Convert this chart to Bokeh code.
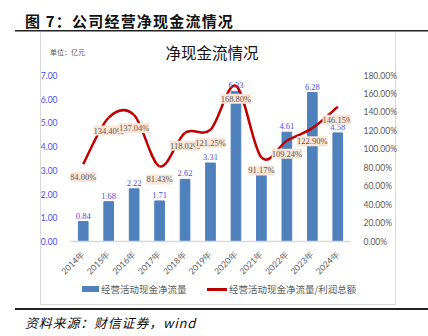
import math
from bokeh.plotting import figure
from bokeh.layouts import column
from bokeh.models import (Range1d, LinearAxis, FixedTicker, PrintfTickFormatter, ColumnDataSource,
                          LabelSet, FactorRange, Div)
from bokeh.embed import file_html
from bokeh.resources import INLINE

# ---------------- data ----------------
years = ["2014年", "2015年", "2016年", "2017年", "2018年", "2019年",
         "2020年", "2021年", "2022年", "2023年", "2024年"]
cash_flow = [0.84, 1.68, 2.22, 1.71, 2.62, 3.31, 6.33, 2.82, 4.61, 6.28, 4.58]   # 亿元
ratio = [84.00, 134.40, 137.04, 81.43, 118.02, 121.25, 168.80, 91.17, 109.24, 122.90, 146.15]  # %
left_ticks = [0, 1, 2, 3, 4, 5, 6, 7]
right_ticks = [0, 20, 40, 60, 80, 100, 120, 140, 160, 180]

series_bar = "经营活动现金净流量"
series_line = "经营活动现金净流量/利润总额"
heading = "图 7：公司经营净现金流情况"
chart_title = "净现金流情况"
unit_text = "单位：亿元"
source_text = "资料来源：财信证券，wind"

# ---------------- styles / layout ----------------
W, H = 428, 336
TOP_H = 58                  # heading strip height
FIG_H = 224                 # chart figure height (canvas y 58..282)
BOT_H = H - TOP_H - FIG_H   # legend / source strip
FL, FR = 70, 350            # frame left/right (px)
FT, FB = 75 - TOP_H, 244 - TOP_H   # frame top/bottom inside the figure

BAR_C = "#4F81BD"
LINE_C = "#C00000"
GRAY = "#595959"
BLUE_TXT = "#4B4BF0"
NUM_FONT = "Lato"
CJK = "Noto Sans CJK SC"

def hline(x, y, w, h, c):
    return f"linear-gradient({c},{c}) {x}px {y}px / {w}px {h}px no-repeat"

decor = ", ".join([
    hline(15, 30, W - 15, 1.5, "#222222"),
    hline(15, 307.5, W - 15, 2, "#222222"),
    hline(40, 31.5, 1, 272.5, "#D9D9D9"),
    hline(395, 31.5, 1, 272.5, "#D9D9D9"),
    hline(40, 304, 356, 1, "#D9D9D9"),
]) + ", white"

p = figure(width=W, height=FIG_H, x_range=FactorRange(*years),
           y_range=Range1d(left_ticks[0], left_ticks[-1]),
           output_backend="svg", toolbar_location=None,
           min_border_left=FL, min_border_right=W - FR, min_border_top=FT,
           min_border_bottom=FIG_H - FB,
           background_fill_color=None, border_fill_color=None)
p.outline_line_color = None
p.xgrid.visible = False
p.ygrid.visible = False
p.extra_y_ranges = {"pct": Range1d(right_ticks[0], right_ticks[-1])}

# left axis
ya = p.yaxis[0]
ya.ticker = FixedTicker(ticks=left_ticks)
ya.formatter = PrintfTickFormatter(format="%.2f")
ya.axis_line_color = None
ya.major_tick_line_color = None
ya.minor_tick_line_color = None
ya.major_label_standoff = 7
ya.major_label_text_font = NUM_FONT
ya.major_label_text_font_size = "8.5px"
ya.major_label_text_color = BLUE_TXT

# right axis
ra = LinearAxis(y_range_name="pct", ticker=FixedTicker(ticks=right_ticks),
                formatter=PrintfTickFormatter(format="%.2f%%"))
ra.axis_line_color = None
ra.major_tick_line_color = None
ra.minor_tick_line_color = None
ra.major_label_standoff = 7
ra.major_label_text_font = NUM_FONT
ra.major_label_text_font_size = "8.5px"
ra.major_label_text_color = GRAY
p.add_layout(ra, "right")

# bottom axis
xa = p.xaxis[0]
xa.axis_line_color = "#D9D9D9"
xa.axis_line_width = 1.5
xa.major_tick_line_color = None
xa.minor_tick_line_color = None
xa.major_label_orientation = math.pi / 4
xa.major_label_standoff = 5
xa.major_label_text_font = NUM_FONT
xa.major_label_text_font_size = "8.5px"
xa.major_label_text_color = GRAY

# bars
src = ColumnDataSource(dict(x=years, v=cash_flow, vt=[f"{v:.2f}" for v in cash_flow],
                            r=ratio, rt=[f"{v:.2f}%" for v in ratio]))
p.vbar(x="x", top="v", width=0.38, source=src, fill_color=BAR_C, line_color=BAR_C)

# smooth line (Catmull-Rom bezier through the data points)
n = len(ratio)
xc = [i + 0.5 for i in range(n)]
x0, y0, x1, y1, cx0, cy0, cx1, cy1 = [], [], [], [], [], [], [], []
for i in range(n - 1):
    pm = max(i - 1, 0)
    pp = min(i + 2, n - 1)
    x0.append(xc[i]); y0.append(ratio[i])
    x1.append(xc[i + 1]); y1.append(ratio[i + 1])
    cx0.append(xc[i] + (xc[i + 1] - xc[pm]) / 6); cy0.append(ratio[i] + (ratio[i + 1] - ratio[pm]) / 6)
    cx1.append(xc[i + 1] - (xc[pp] - xc[i]) / 6); cy1.append(ratio[i + 1] - (ratio[pp] - ratio[i]) / 6)
bsrc = ColumnDataSource(dict(x0=x0, y0=y0, x1=x1, y1=y1, cx0=cx0, cy0=cy0, cx1=cx1, cy1=cy1))
p.bezier(x0="x0", y0="y0", x1="x1", y1="y1", cx0="cx0", cy0="cy0", cx1="cx1", cy1="cy1",
         source=bsrc, y_range_name="pct", line_color=LINE_C, line_width=2.5)

# value labels
p.add_layout(LabelSet(x="x", y="v", text="vt", source=src, y_offset=3, text_align="center",
                      text_baseline="bottom", text_font=NUM_FONT, text_font_size="8.5px",
                      text_color=BLUE_TXT))
p.add_layout(LabelSet(x="x", y="r", text="rt", source=src, y_range_name="pct", y_offset=-13,
                      text_align="center", text_baseline="middle", text_font=NUM_FONT,
                      text_font_size="8.5px", text_color=GRAY, background_fill_color="#FBE5D6"))

abs_ = "position:absolute;white-space:nowrap;"

# heading strip: figure caption, chart title, unit
top_html = (
    f'<div style="position:relative;width:{W}px;height:{TOP_H}px;font-family:\'{CJK}\';">'
    f'<div style="{abs_}left:25px;top:11px;font-size:15px;line-height:20px;font-weight:bold;letter-spacing:1.2px;color:#111111;">{heading}</div>'
    f'<div style="{abs_}left:0px;top:42px;width:424px;text-align:center;font-size:15.5px;line-height:20px;color:#111111;">{chart_title}</div>'
    f'<div style="{abs_}left:50px;top:47px;font-size:7px;line-height:10px;color:{GRAY};">{unit_text}</div>'
    '</div>'
)
top = Div(text=top_html, width=W, height=TOP_H, margin=0)

# legend + source strip below the chart
strip_html = (
    f'<div style="position:relative;width:{W}px;height:{BOT_H}px;font-family:\'{CJK}\';">'
    f'<div style="{abs_}left:82px;top:4px;width:17px;height:6px;background:{BAR_C};"></div>'
    f'<div style="{abs_}left:101px;top:0px;font-size:9.5px;line-height:14px;color:{GRAY};">{series_bar}</div>'
    f'<div style="{abs_}left:207px;top:6px;width:20px;height:2.5px;background:{LINE_C};"></div>'
    f'<div style="{abs_}left:229px;top:0px;font-size:9.5px;line-height:14px;color:{GRAY};">{series_line}</div>'
    f'<div style="{abs_}left:25px;top:32px;font-size:13px;line-height:18px;font-style:italic;letter-spacing:0.8px;color:#111111;">{source_text}</div>'
    '</div>'
)
strip = Div(text=strip_html, width=W, height=BOT_H, margin=0)

layout = column(top, p, strip, spacing=0, styles={"background": decor})

open("out.html", "w").write(file_html(layout, INLINE))
